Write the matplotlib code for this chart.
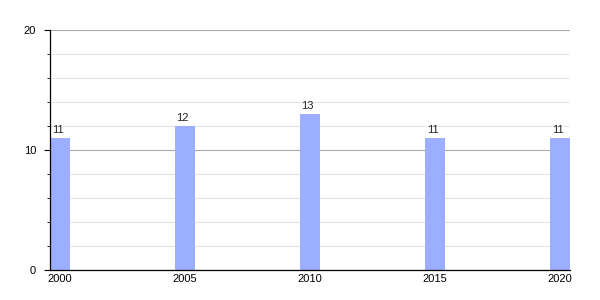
import matplotlib
matplotlib.use("Agg")
import matplotlib.pyplot as plt
from matplotlib.ticker import MultipleLocator

plt.rcParams["font.family"] = ["Liberation Sans", "DejaVu Sans"]

years = ["2000", "2005", "2010", "2015", "2020"]
values = [11, 12, 13, 11, 11]

fig = plt.figure(figsize=(6, 3), dpi=100)
ax = fig.add_axes([50 / 600, 0.1, 520 / 600, 0.8])

x = range(len(years))
ax.bar(x, values, width=0.16, color="#9caeff", zorder=2)
for xi, v in zip(x, values):
    ax.text(xi - 0.02, v + 0.25, str(v), ha="center", va="bottom", fontsize=8, color="#222222")

ax.set_xlim(-0.08, len(years) - 1 + 0.08)
ax.set_ylim(0, 20)
ax.set_xticks(list(x))
ax.set_xticklabels(years)
ax.yaxis.set_major_locator(MultipleLocator(10))
ax.yaxis.set_minor_locator(MultipleLocator(2))
ax.grid(axis="y", which="major", color="#aaaaaa", linewidth=0.8, zorder=0)
ax.grid(axis="y", which="minor", color="#e3e3e3", linewidth=0.8, zorder=0)

ax.tick_params(axis="x", length=0, labelsize=8, pad=3)
ax.tick_params(axis="y", which="major", length=4, labelsize=8, pad=6)
ax.tick_params(axis="y", which="minor", length=2)
for s in ("top", "right"):
    ax.spines[s].set_visible(False)
ax.spines["left"].set_linewidth(0.9)
ax.spines["bottom"].set_linewidth(0.9)

fig.savefig("out.png", dpi=100)
